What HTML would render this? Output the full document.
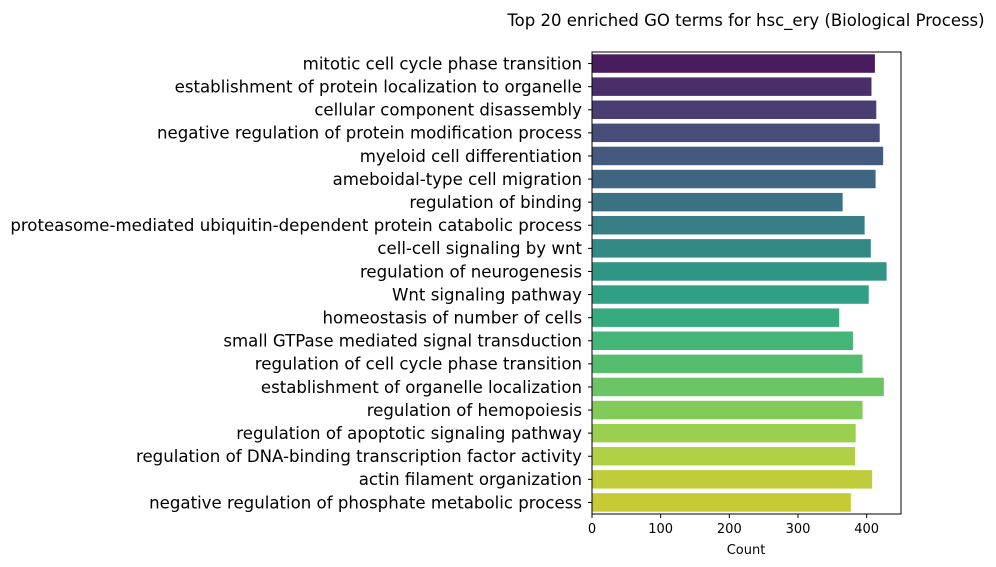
<!DOCTYPE html>
<html><head><meta charset="utf-8"><style>
body{margin:0;background:#fff}
svg{display:block;font-family:"DejaVu Sans","Liberation Sans",sans-serif}
</style></head><body>
<svg id="chart" width="996" height="567" viewBox="0 0 996 567">
<text x="746" y="26" font-size="16.5" text-anchor="middle" fill="#000">Top 20 enriched GO terms for hsc_ery (Biological Process)</text>
<g id="bars"></g>
<g id="axes"></g>
<text x="746" y="554" font-size="13" text-anchor="middle">Count</text>
</svg>
<script>
const categories=["mitotic cell cycle phase transition","establishment of protein localization to organelle","cellular component disassembly","negative regulation of protein modification process","myeloid cell differentiation","ameboidal-type cell migration","regulation of binding","proteasome-mediated ubiquitin-dependent protein catabolic process","cell-cell signaling by wnt","regulation of neurogenesis","Wnt signaling pathway","homeostasis of number of cells","small GTPase mediated signal transduction","regulation of cell cycle phase transition","establishment of organelle localization","regulation of hemopoiesis","regulation of apoptotic signaling pathway","regulation of DNA-binding transcription factor activity","actin filament organization","negative regulation of phosphate metabolic process"];
const counts=[412,407,414,419,424,413,365,397,406,429,403,360,380,394,425,394,384,383,408,377];
const xTicks=[0,100,200,300,400];
const colors=["#481c5e","#4a2e6a","#4a3d72","#484c79","#44597e","#3f6681","#3b7283","#377e85","#338986","#309585","#2fa083","#36ab7e","#43b577","#55be6e","#6bc564","#83cb59","#9bcf4e","#b0d045","#bfcd3b","#c6ca34"];
const L=592,R=901,T=52,B=514,xMax=450;
const NS="http://www.w3.org/2000/svg";
const x=v=>L+v/xMax*(R-L);
const band=(B-T)/categories.length;
const y=i=>T+band*i;
const bars=document.getElementById('bars'),axes=document.getElementById('axes');
function mk(t,a,p){const e=document.createElementNS(NS,t);for(const k in a)e.setAttribute(k,a[k]);p.appendChild(e);return e;}
categories.forEach((c,i)=>{
  const r=mk('rect',{x:L,y:y(i)+band*0.1,width:x(counts[i])-L,height:band*0.8,fill:colors[i]},bars);
  
  
  const cy=y(i)+band/2;
  const tk=mk('line',{x1:L-4,x2:L,y1:cy,y2:cy,stroke:'#000','stroke-width':1},axes);
  
  
  const t=mk('text',{x:L-10,y:cy+5.8,'font-size':16.6,'text-anchor':'end'},axes);
  t.textContent=c;
  
  
});
const fr=mk('rect',{x:L,y:T,width:R-L,height:B-T,fill:'none',stroke:'#000','stroke-width':1},axes);


xTicks.forEach(v=>{
  const tk=mk('line',{x1:x(v),x2:x(v),y1:B,y2:B+4,stroke:'#000','stroke-width':1},axes);
  
  
  const t=mk('text',{x:x(v),y:B+19,'font-size':13,'text-anchor':'middle'},axes);
  t.textContent=v;
  
  
});
</script>
</body></html>
